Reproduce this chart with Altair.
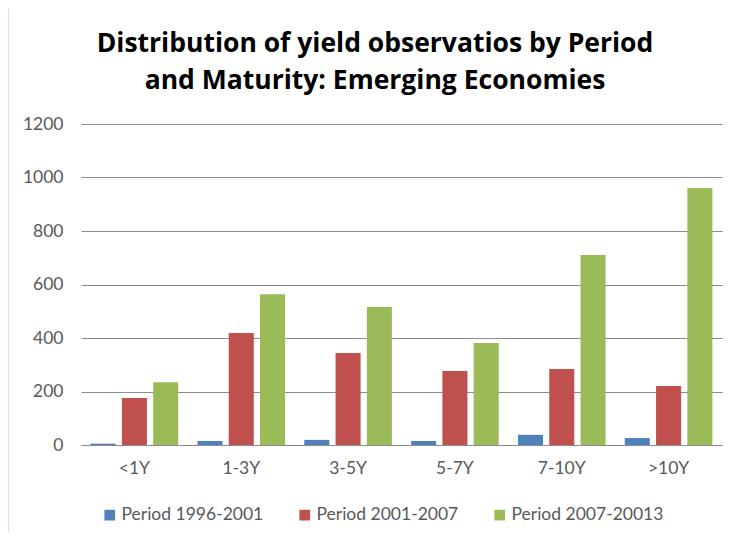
import altair as alt
import pandas as pd

categories = ["<1Y", "1-3Y", "3-5Y", "5-7Y", "7-10Y", ">10Y"]
periods = ["Period 1996-2001", "Period 2001-2007", "Period 2007-20013"]
p1 = [5, 15, 19, 15, 38, 26]
p2 = [176, 419, 344, 277, 284, 221]
p3 = [235, 564, 516, 381, 710, 961]
colors = ["#4F81BD", "#C0504D", "#9BBB59"]
title_lines = ["Distribution of yield observatios by Period",
               "and Maturity: Emerging Economies"]

rows = []
for series, vals in zip(periods, [p1, p2, p3]):
    for c, v in zip(categories, vals):
        rows.append({"Maturity": c, "Period": series, "Count": v})
df = pd.DataFrame(rows)

FONT = "Lato"
TFONT = "Open Sans"

bars = alt.Chart(df).mark_bar().encode(
    x=alt.X("Maturity:N", sort=categories,
            scale=alt.Scale(paddingInner=0.18, paddingOuter=0.09),
            axis=alt.Axis(title=None, labelAngle=0, ticks=False, domain=True,
                          domainColor="#8c8c8c", labelPadding=14,
                          labelFontSize=17.5, labelColor="#595959", labelFont=FONT)),
    xOffset=alt.XOffset("Period:N", sort=periods,
                        scale=alt.Scale(paddingInner=0.2, paddingOuter=0)),
    y=alt.Y("Count:Q", scale=alt.Scale(domain=[0, 1200]),
            axis=alt.Axis(title=None, values=[0, 200, 400, 600, 800, 1000, 1200],
                          format="d",
                          ticks=False, domain=False, grid=True, gridColor="#8c8c8c",
                          labelPadding=18, labelFontSize=17.5, labelColor="#595959",
                          labelFont=FONT)),
    color=alt.Color("Period:N", sort=periods,
                    scale=alt.Scale(domain=periods, range=colors),
                    legend=alt.Legend(title=None, orient="none", direction="horizontal",
                                      legendX=20, legendY=382,
                                      symbolType="square", symbolSize=115,
                                      symbolStrokeWidth=0, columnPadding=32,
                                      labelFontSize=17.5, labelColor="#595959",
                                      labelFont=FONT, labelOffset=3)),
)

border = alt.Chart(pd.DataFrame({"a": [0]})).mark_rule(color="#a9c6ee", strokeWidth=1).encode(
    x=alt.value(-73), y=alt.value(-116), y2=alt.value(410)
)

title1 = alt.Chart(pd.DataFrame({"a": [0]})).mark_text(
    text=title_lines[0], font=TFONT, fontSize=26.5, fontWeight="bold", color="#000000",
    align="center", baseline="alphabetic"
).encode(x=alt.value(294), y=alt.value(-72))

title2 = alt.Chart(pd.DataFrame({"a": [0]})).mark_text(
    text=title_lines[1], font=TFONT, fontSize=26.5, fontWeight="bold", color="#000000",
    align="center", baseline="alphabetic"
).encode(x=alt.value(294), y=alt.value(-35))

chart = alt.layer(border, title1, title2, bars).properties(
    width=641,
    height=321,
    autosize=alt.AutoSizeParams(type="none"),
    padding={"left": 73, "top": 116, "right": 3, "bottom": 87},
).configure_view(stroke=None)

chart.save("out.html", embed_options={"renderer": "svg", "actions": False})
